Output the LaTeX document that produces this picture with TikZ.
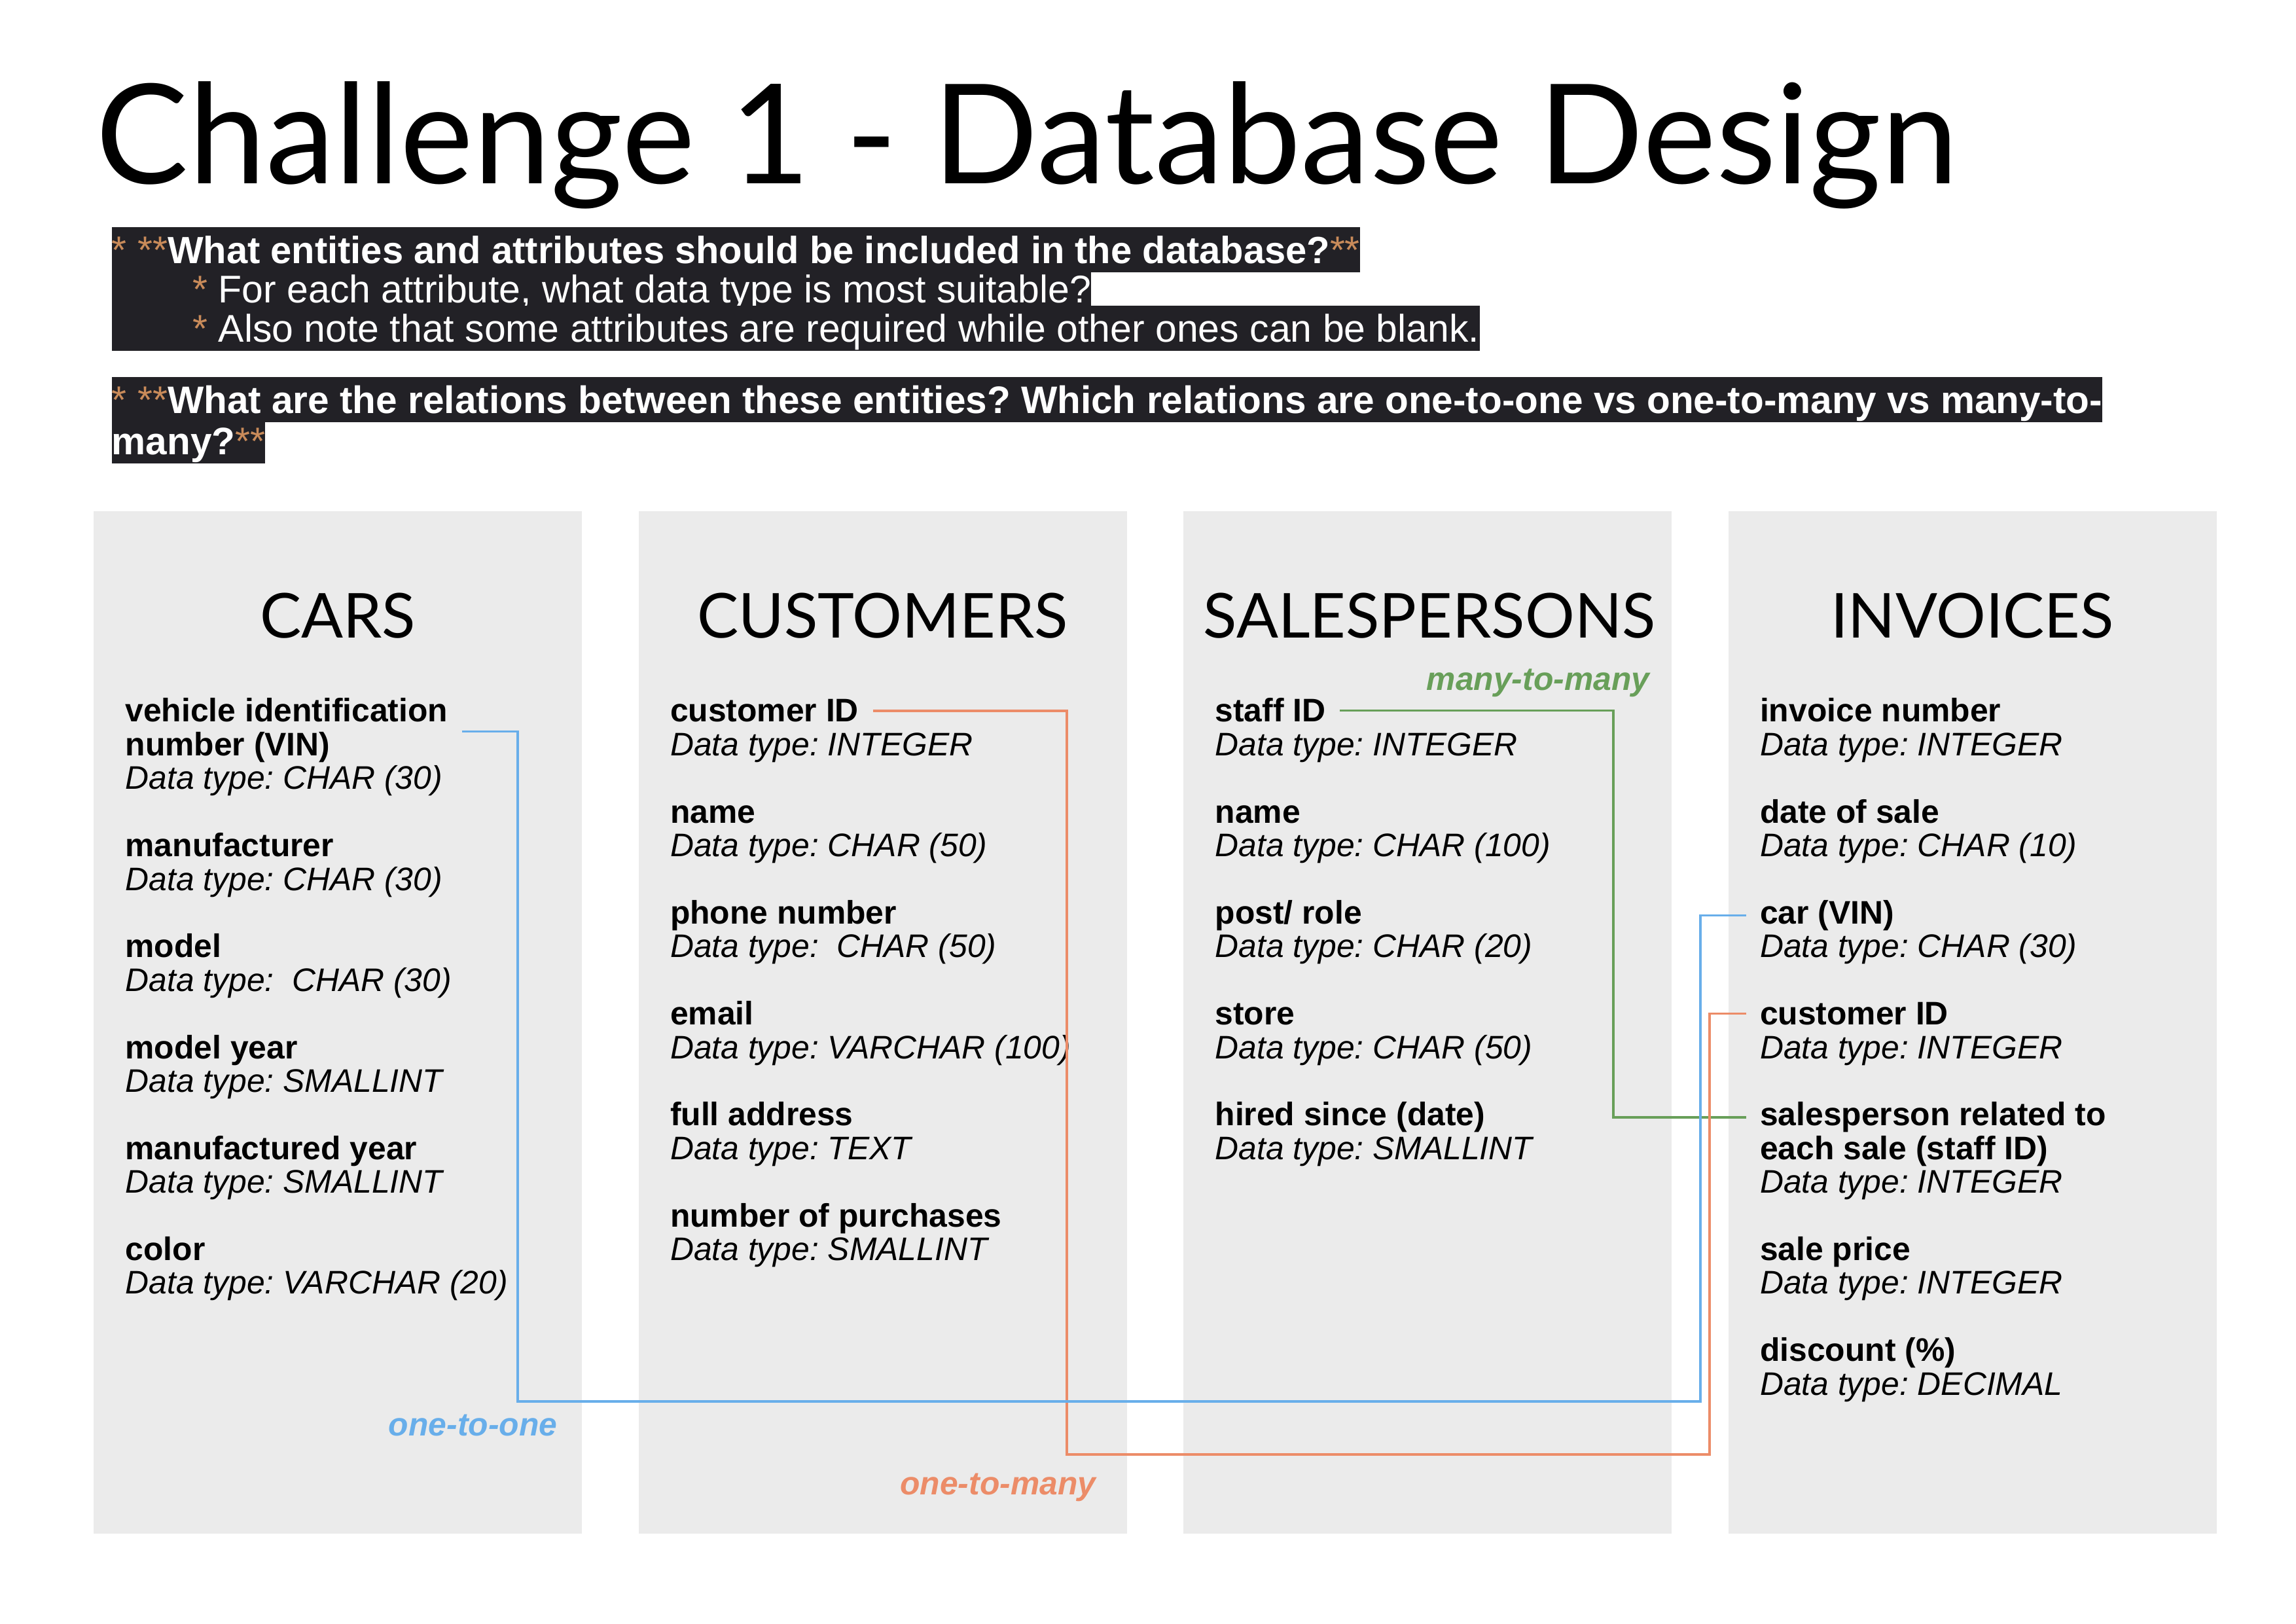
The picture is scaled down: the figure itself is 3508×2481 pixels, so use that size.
\documentclass[tikz,border=0pt]{standalone}
\usepackage{fontspec}
\setmainfont{Liberation Sans}
\newfontfamily\gillfont{Lato}
\definecolor{panelgray}{HTML}{EBEBEB}
\definecolor{qdark}{HTML}{222126}
\definecolor{astcol}{HTML}{C98B5A}
\definecolor{oneone}{HTML}{68AEEA}
\definecolor{onemany}{HTML}{EC8C68}
\definecolor{manymany}{HTML}{689F59}
\frenchspacing

\begin{document}
\begin{tikzpicture}[x=0.0846667mm,y=-0.0846667mm,
  panel/.style={fill=panelgray},
  title/.style={font=\gillfont\fontsize{51}{58}\selectfont,anchor=base west,inner sep=0},
  colhead/.style={font=\gillfont\fontsize{22.8}{26}\selectfont,anchor=base,inner sep=0},
  qline/.style={fill=qdark,text=white,font=\fontsize{14.2}{16}\selectfont,anchor=base west,
    inner sep=0,text height=13.4pt,text depth=3.1pt},
  attr/.style={font=\bfseries\fontsize{12}{14}\selectfont,anchor=base west,inner xsep=5pt,inner ysep=0},
  dtype/.style={font=\itshape\fontsize{12}{14}\selectfont,anchor=base west,inner xsep=5pt,inner ysep=0},
  rellabel/.style={font=\bfseries\itshape\fontsize{12}{14}\selectfont,anchor=base east,inner sep=0},
  rel/.style={line width=.8pt}]

\useasboundingbox (0,0) rectangle (3508,2481);
\fill[white] (0,0) rectangle (3508,2481);

% title and questions
\node[title] (title) at (146,281) {Challenge 1 - Database Design};

\node[qline] (q1a) at (170,403)
    {{\color{astcol}* **}\textbf{\fontsize{13.95}{16}\selectfont What entities and attributes should be included in the database?}{\color{astcol}**}};
\node[qline] (q1b) at (170,463)
    {\hspace*{29.8pt}{\color{astcol}*} For each attribute, what data type is most suitable?};
\node[qline] (q1c) at (170,523)
    {\hspace*{29.8pt}{\color{astcol}*} Also note that some attributes are required while other ones can be blank.};
\node[qline] (q2a) at (170,632)
    {{\color{astcol}* **}\textbf{\fontsize{14.1}{16}\selectfont What are the relations between these entities? Which relations are one-to-one vs one-to-many vs many-to-}};
\node[qline] (q2b) at (170,695)
    {\textbf{\fontsize{14.1}{16}\selectfont many?}{\color{astcol}**}};

% entity panels
\foreach \i in {0,...,3}
    \fill[panel] ({143+832.5*\i},781) rectangle ++(746,1562);

\node[colhead] (hcars) at (516,975) {CARS};
\node[colhead] (hcust) at (1348.5,975) {CUSTOMERS};
\node[colhead] (hsales) at (2184,975) {SALESPERSONS};
\node[colhead] (hinv) at (3013.5,975) {INVOICES};

% CARS
\node[attr] (cvin) at (170,1103) {vehicle identification};
\node[attr] (cvin2) at (170,1154.4) {number (VIN)};
\node[dtype] (cvin-t) at (170,1205.8) {Data type: CHAR (30)};
\foreach \key/\row/\lbl/\typ in {cman/4/manufacturer/CHAR (30),
    cmod/7/model/\ CHAR (30),
    cyear/10/model year/SMALLINT,
    cmyear/13/manufactured year/SMALLINT,
    ccol/16/color/VARCHAR (20)}{
  \node[attr] (\key) at (170,{1103+51.4*\row}) {\lbl};
  \node[dtype] (\key-t) at (170,{1103+51.4*(\row+1)}) {Data type: \typ};
}

% CUSTOMERS
\foreach \key/\row/\lbl/\typ in {cid/0/customer ID/INTEGER,
    cname/3/name/CHAR (50),
    cphone/6/phone number/\ CHAR (50),
    cmail/9/email/VARCHAR (100),
    caddr/12/full address/TEXT,
    cpurch/15/number of purchases/SMALLINT}{
  \node[attr] (\key) at (1002.5,{1103+51.4*\row}) {\lbl};
  \node[dtype] (\key-t) at (1002.5,{1103+51.4*(\row+1)}) {Data type: \typ};
}

% SALESPERSONS
\foreach \key/\row/\lbl/\typ in {sid/0/staff ID/INTEGER,
    sname/3/name/CHAR (100),
    spost/6/{post/ role}/CHAR (20),
    sstore/9/store/CHAR (50),
    shired/12/hired since (date)/SMALLINT}{
  \node[attr] (\key) at (1835,{1103+51.4*\row}) {\lbl};
  \node[dtype] (\key-t) at (1835,{1103+51.4*(\row+1)}) {Data type: \typ};
}

% INVOICES
\foreach \key/\row/\lbl/\typ in {inum/0/invoice number/INTEGER,
    idate/3/date of sale/CHAR (10),
    icar/6/car (VIN)/CHAR (30),
    icid/9/customer ID/INTEGER}{
  \node[attr] (\key) at (2667.5,{1103+51.4*\row}) {\lbl};
  \node[dtype] (\key-t) at (2667.5,{1103+51.4*(\row+1)}) {Data type: \typ};
}
\node[attr] (isp) at (2667.5,1719.8) {salesperson related to};
\node[attr] (isp2) at (2667.5,1771.2) {each sale (staff ID)};
\node[dtype] (isp-t) at (2667.5,1822.6) {Data type: INTEGER};
\foreach \key/\row/\lbl/\typ in {iprice/16/sale price/INTEGER,
    idisc/19/discount (\%)/DECIMAL}{
  \node[attr] (\key) at (2667.5,{1103+51.4*\row}) {\lbl};
  \node[dtype] (\key-t) at (2667.5,{1103+51.4*(\row+1)}) {Data type: \typ};
}

% relations
\coordinate (gx) at (2465,0);
\coordinate (b1) at (791,2141);
\coordinate (b2) at (2598,2141);
\coordinate (o1) at (1630,2222);
\coordinate (o2) at (2612,2222);

\draw[rel,manymany] (sid.east) -| (gx |- isp.west) -- (isp.west);
\draw[rel,onemany] (cid.east) -| (o1) -- (o2) |- (icid.west);
\draw[rel,oneone] (cvin.east |- cvin2.north) -| (b1) -- (b2) |- (icar.west);

\node[rellabel,manymany] (lmm) at (2521,1055) {many-to-many};
\node[rellabel,oneone] (loo) at (852,2193) {one-to-one};
\node[rellabel,onemany] (lom) at (1675,2283) {one-to-many};
\end{tikzpicture}
\end{document}
